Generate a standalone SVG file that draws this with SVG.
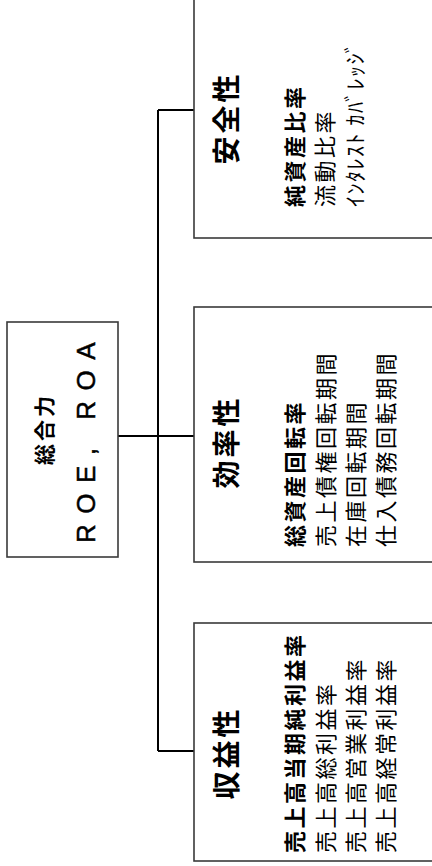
<svg xmlns="http://www.w3.org/2000/svg" width="432" height="866" viewBox="0 0 432 866">
<style>
.box{fill:#fff;stroke:#3a3a3a;stroke-width:1.6}
.conn{fill:none;stroke:#000;stroke-width:2}
.jp{font-family:"Noto Sans CJK JP","Noto Sans",sans-serif;fill:#000}
.title{font-size:28px;font-weight:bold;letter-spacing:3px}
.item{font-size:22px;letter-spacing:2.5px}
.b{font-weight:bold}
.lat{font-family:"Liberation Sans",Arial,sans-serif;font-size:26px;letter-spacing:10.5px;fill:#000;stroke:#000;stroke-width:0.5}
</style>
<rect width="432" height="866" fill="#fff"/>
<g id="connectors">
<path class="conn" d="M117 436H194M158 110V751M158 110H194M158 751H194"/>
</g>
<g id="root">
<rect class="box" x="7" y="322" width="111" height="235"/>
<text class="jp b" font-size="21" letter-spacing="3" x="43" y="429" text-anchor="middle" dominant-baseline="central" transform="rotate(-90 43 429)">総合力</text>
<text class="lat" x="86" y="543" dominant-baseline="central" transform="rotate(-90 86 543)">ROE, ROA</text>
</g>
<g id="anzen">
<rect class="box" x="194" y="-5" width="250" height="243"/>
<text class="jp title" x="225" y="118" text-anchor="middle" dominant-baseline="central" transform="rotate(-90 225 118)">安全性</text>
<text class="jp item b" x="293" y="207" dominant-baseline="central" transform="rotate(-90 293 207)">純資産比率</text>
<text class="jp item" x="323" y="207" dominant-baseline="central" transform="rotate(-90 323 207)">流動比率</text>
<text class="jp item" x="353" y="207" dominant-baseline="central" style="letter-spacing:1.5px" transform="rotate(-90 353 207)">ｲﾝﾀﾚｽﾄ ｶﾊﾞﾚｯｼﾞ</text>
</g>
<g id="kouritsu">
<rect class="box" x="194" y="307" width="250" height="255"/>
<text class="jp title" x="225" y="442" text-anchor="middle" dominant-baseline="central" transform="rotate(-90 225 442)">効率性</text>
<text class="jp item b" x="293" y="547" dominant-baseline="central" transform="rotate(-90 293 547)">総資産回転率</text>
<text class="jp item" x="324" y="547" dominant-baseline="central" transform="rotate(-90 324 547)">売上債権回転期間</text>
<text class="jp item" x="354" y="547" dominant-baseline="central" transform="rotate(-90 354 547)">在庫回転期間</text>
<text class="jp item" x="384" y="547" dominant-baseline="central" transform="rotate(-90 384 547)">仕入債務回転期間</text>
</g>
<g id="shueki">
<rect class="box" x="194" y="623" width="250" height="238"/>
<text class="jp title" x="225" y="753" text-anchor="middle" dominant-baseline="central" transform="rotate(-90 225 753)">収益性</text>
<text class="jp item b" x="293" y="853" dominant-baseline="central" transform="rotate(-90 293 853)">売上高当期純利益率</text>
<text class="jp item" x="324" y="853" dominant-baseline="central" transform="rotate(-90 324 853)">売上高総利益率</text>
<text class="jp item" x="354" y="853" dominant-baseline="central" transform="rotate(-90 354 853)">売上高営業利益率</text>
<text class="jp item" x="384" y="853" dominant-baseline="central" transform="rotate(-90 384 853)">売上高経常利益率</text>
</g>
</svg>
